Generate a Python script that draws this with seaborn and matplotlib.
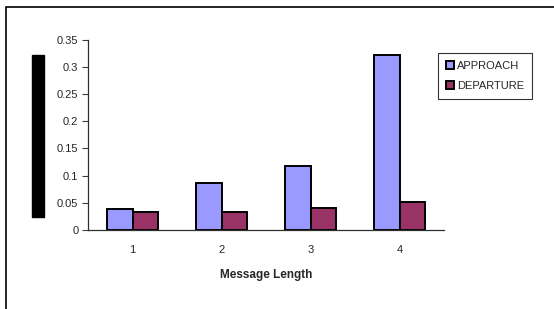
import pandas as pd
import matplotlib
matplotlib.use("Agg")
import matplotlib.pyplot as plt
import seaborn as sns
from matplotlib.patches import Rectangle

# datos
message_length = ["1", "2", "3", "4"]
approach = [0.039, 0.087, 0.117, 0.321]
departure = [0.033, 0.033, 0.040, 0.051]
series_names = ["APPROACH", "DEPARTURE"]
y_ticks = [0, 0.05, 0.1, 0.15, 0.2, 0.25, 0.3, 0.35]
y_labels = ["0", "0.05", "0.1", "0.15", "0.2", "0.25", "0.3", "0.35"]

df = pd.DataFrame({
    "Message Length": message_length * 2,
    "valor": approach + departure,
    "serie": [series_names[0]] * 4 + [series_names[1]] * 4,
})

sns.set_style("white")
plt.rcParams['font.family'] = ['Liberation Sans', 'DejaVu Sans']

fig = plt.figure(figsize=(5.54, 3.09), dpi=100)
ax = fig.add_axes([88 / 554, 1 - 230 / 309, 356 / 554, 190.5 / 309])

sns.barplot(data=df, x="Message Length", y="valor", hue="serie",
            palette=["#9999FF", "#993366"], width=0.58, gap=0,
            edgecolor="black", linewidth=1.4, saturation=1, ax=ax)

ax.set_xlim(-0.5, 3.5)
ax.set_ylim(0, 0.35)
ax.set_yticks(y_ticks)
ax.set_yticklabels(y_labels, fontsize=8)
ax.set_xticks(range(4))
ax.set_xticklabels(message_length, fontsize=8)
ax.set_xticks([-0.5, 0.5, 1.5, 2.5, 3.5], minor=True)
ax.tick_params(axis='x', which='major', length=0, pad=11)
ax.tick_params(axis='x', which='minor', length=4, width=0.8, color='#404040', direction='out')
ax.tick_params(axis='y', length=4, width=0.8, color='#404040', direction='out', pad=3, left=True)
ax.set_ylabel("")
ax.set_xlabel("Message Length", fontsize=8.5, fontweight='bold', labelpad=10)

for s in ["top", "right"]:
    ax.spines[s].set_visible(False)
for s in ["left", "bottom"]:
    ax.spines[s].set_color("#303030")
    ax.spines[s].set_linewidth(0.9)

leg = ax.legend(loc="upper left", bbox_to_anchor=(438 / 554, 1 - 53 / 309),
                bbox_transform=fig.transFigure, fontsize=8, frameon=True,
                fancybox=False, edgecolor="black", handlelength=0.7,
                handleheight=0.7, handletextpad=0.3, borderpad=0.7,
                labelspacing=0.9, borderaxespad=0)
leg.get_frame().set_linewidth(0.8)
leg.set_title(None)

# bloque negro a la izquierda (etiqueta del eje tapada)
fig.patches.append(Rectangle((32 / 554, 1 - 217 / 309), 12 / 554, 162 / 309,
                             transform=fig.transFigure, color="black", zorder=5))
# borde del grafico
fig.patches.append(Rectangle((6 / 554, -0.1), 1.2, (1 - 7 / 309) + 0.1,
                             transform=fig.transFigure, fill=False,
                             edgecolor="black", linewidth=1.2))

fig.savefig("out.png", dpi=100)
